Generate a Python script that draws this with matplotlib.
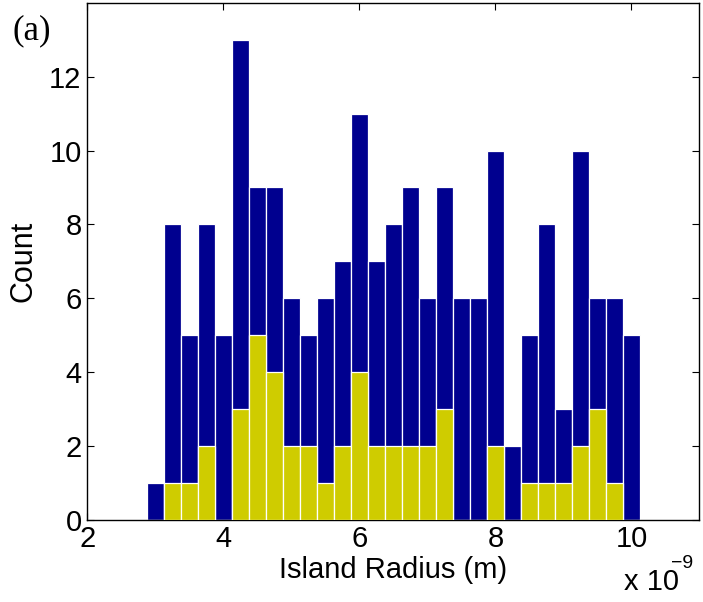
import numpy as np
import matplotlib
matplotlib.use('Agg')
from matplotlib import pyplot as plt

# bin centres of the radius histogram (units of 1e-9 m)
radius_bins = [3.0, 3.25, 3.5, 3.75, 4.0, 4.25, 4.5, 4.75, 5.0, 5.25,
               5.5, 5.75, 6.0, 6.25, 6.5, 6.75, 7.0, 7.25, 7.5, 7.75,
               8.0, 8.25, 8.5, 8.75, 9.0, 9.25, 9.5, 9.75, 10.0]
# all islands
count_all = [1, 8, 5, 8, 5, 13, 9, 9, 6, 5,
             6, 7, 11, 7, 8, 9, 6, 9, 6, 6,
             10, 2, 5, 8, 3, 10, 6, 6, 5]
# subset
count_sub = [0, 1, 1, 2, 0, 3, 5, 4, 2, 2,
             1, 2, 4, 2, 2, 2, 2, 3, 0, 0,
             2, 0, 1, 1, 1, 2, 3, 1, 0]

plt.rcParams['font.family'] = ['Liberation Sans', 'DejaVu Sans']

fig = plt.figure(figsize=(7.03, 6.02), dpi=100)
ax = fig.add_axes([0.124, 0.137, 0.871, 0.858])

bin_w = 0.25
ax.bar(radius_bins, count_all, width=bin_w, color='#00008f',
       edgecolor='white', linewidth=0.9, zorder=2)
ax.bar(radius_bins, count_sub, width=bin_w, color='#cfcc00',
       edgecolor='white', linewidth=0.9, zorder=3)

ax.set_xlim(2, 11)
ax.set_ylim(0, 14)
ax.set_xticks([2, 4, 6, 8, 10])
ax.set_yticks([0, 2, 4, 6, 8, 10, 12])
ax.tick_params(direction='in', length=5, width=0.8, top=True, right=True,
               labelsize=21, pad=4)
for sp in ax.spines.values():
    sp.set_linewidth(1.0)

ax.set_xlabel('Island Radius (m)', fontsize=21, labelpad=2)
ax.set_ylabel('Count', fontsize=22, labelpad=8)

# exponent label under the right end of the x axis
fig.text(0.887, 0.02, 'x 10', fontsize=21, ha='left', va='baseline')
fig.text(0.955, 0.056, '\u22129', fontsize=14, ha='left', va='baseline')
fig.text(0.018, 0.935, '(a)', fontsize=25, family='Liberation Serif',
         ha='left', va='baseline')

fig.savefig('out.png', dpi=100)
